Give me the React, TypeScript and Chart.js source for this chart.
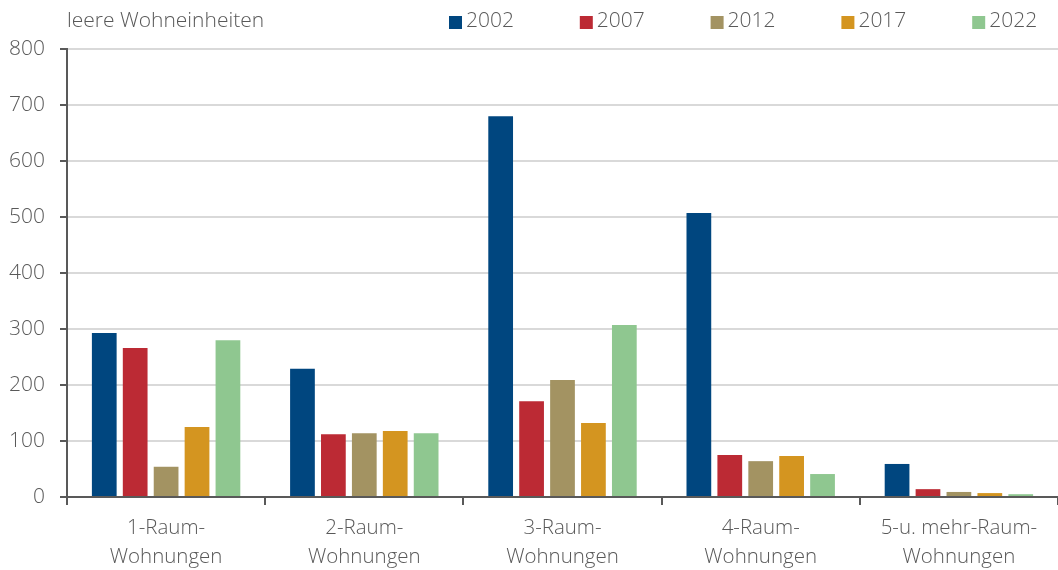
import React, { useEffect, useRef } from "react";
import { Chart, registerables } from "chart.js";

Chart.register(...registerables);

const categories: string[][] = [
  ["1-Raum-", "Wohnungen"],
  ["2-Raum-", "Wohnungen"],
  ["3-Raum-", "Wohnungen"],
  ["4-Raum-", "Wohnungen"],
  ["5-u. mehr-Raum-", "Wohnungen"],
];
const seriesLabels = ["2002", "2007", "2012", "2017", "2022"];
const values2002 = [293, 229, 680, 507, 59];
const values2007 = [266, 112, 171, 75, 14];
const values2012 = [54, 114, 209, 64, 9];
const values2017 = [125, 118, 132, 73, 7];
const values2022 = [280, 114, 307, 41, 5];
const colors = ["#00467f", "#bc2a34", "#a39362", "#d49520", "#8fc790"];
const unitLabel = "leere Wohneinheiten";

const FONT = "'Open Sans', 'Noto Sans', sans-serif";
const TEXT = "#595959";

const legendPlugin = {
  id: "customLegend",
  afterDraw(chart: any) {
    const ctx = chart.ctx;
    ctx.save();
    ctx.font = `300 21px ${FONT}`;
    ctx.fillStyle = TEXT;
    ctx.textBaseline = "middle";
    ctx.textAlign = "left";
    ctx.fillText(unitLabel, chart.chartArea.left, 21);
    const startX = 449;
    const step = 130.8;
    chart.data.datasets.forEach((ds: any, i: number) => {
      const x = startX + i * step;
      ctx.fillStyle = ds.backgroundColor;
      ctx.fillRect(x, 16, 13, 13);
      ctx.fillStyle = TEXT;
      ctx.fillText(ds.label, x + 17, 21);
    });
    ctx.restore();
  },
};

export default function App() {
  const ref = useRef<HTMLCanvasElement | null>(null);
  useEffect(() => {
    if (!ref.current) return;
    const allValues = [values2002, values2007, values2012, values2017, values2022];
    const chart = new Chart(ref.current, {
      type: "bar",
      data: {
        labels: categories,
        datasets: seriesLabels.map((l, i) => ({
          label: l,
          data: allValues[i],
          backgroundColor: colors[i],
          borderWidth: 0,
          categoryPercentage: 0.78,
          barPercentage: 0.8,
        })),
      },
      options: {
        animation: false,
        responsive: false,
        maintainAspectRatio: false,
        layout: { padding: { top: 49, right: 0, left: 0, bottom: 0 } },
        plugins: {
          legend: { display: false },
          tooltip: { enabled: false },
        },
        scales: {
          x: {
            offset: true,
            afterFit(scale: any) {
              scale.height = 73;
            },
            grid: {
              offset: true,
              drawOnChartArea: false,
              drawTicks: true,
              tickLength: 8,
              tickColor: "#595959",
              tickWidth: 2,
              lineWidth: 2,
              color: "#595959",
            },
            border: { display: true, color: "#595959", width: 2 },
            ticks: {
              color: TEXT,
              font: { family: FONT, size: 20.5, weight: "300", lineHeight: "29px" },
              padding: 9,
              maxRotation: 0,
              autoSkip: false,
            },
          },
          y: {
            min: 0,
            max: 800,
            afterFit(scale: any) {
              scale.width = 67;
            },
            grid: {
              color: "#d9d9d9",
              lineWidth: 2,
              tickColor: "#595959",
              tickLength: 7,
              tickWidth: 2,
            },
            border: { display: true, color: "#595959", width: 2 },
            ticks: {
              stepSize: 100,
              color: TEXT,
              padding: 15,
              font: { family: FONT, size: 21, weight: "300" },
            },
          },
        },
      },
      plugins: [legendPlugin],
    });
    return () => chart.destroy();
  }, []);
  return (
    <div style={{ position: "fixed", left: 0, top: 0, width: 1058, height: 570, background: "#fff" }}>
      <canvas ref={ref} width={1058} height={570} style={{ width: 1058, height: 570 }} />
    </div>
  );
}
